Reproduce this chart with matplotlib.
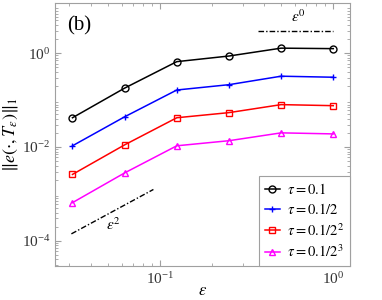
import numpy as np
import matplotlib
matplotlib.use("Agg")
import matplotlib.pyplot as plt

plt.rcParams['font.family'] = ['Liberation Serif', 'DejaVu Serif']
plt.rcParams['mathtext.fontset'] = 'stix'

# grid sizes eps = 1/32 ... 1
eps = [1/32, 1/16, 1/8, 1/4, 1/2, 1.0]

# L1 errors for each time step
err_tau1 = [0.042, 0.18, 0.66, 0.87, 1.28, 1.25]
err_tau2 = [0.0106, 0.044, 0.164, 0.213, 0.323, 0.307]
err_tau3 = [0.0026, 0.0111, 0.042, 0.054, 0.080, 0.076]
err_tau4 = [0.00065, 0.0028, 0.0106, 0.0136, 0.020, 0.019]

labels = [r'$\tau=0.1$', r'$\tau=0.1/2$', r'$\tau=0.1/2^2$', r'$\tau=0.1/2^3$']

# reference slopes
ref2_x = [0.0308, 0.0916]
ref2_c = 0.148
ref0_x = [0.37, 1.0]
ref0_y = 3.0

fig = plt.figure(figsize=(3.82, 3.00), dpi=100)
ax = fig.add_axes([0.144, 0.113, 0.772, 0.877])

series = [err_tau1, err_tau2, err_tau3, err_tau4]
colors = ['black', 'blue', 'red', 'magenta']
markers = ['o', '+', 's', '^']
for s, c, m, lab in zip(series, colors, markers, labels):
    ax.plot(eps, s, color=c, marker=m, markersize=5, mfc='none', mew=1.0,
            lw=1.1, label=lab)

# MATLAB-like dense dash-dot
dd = (0, (4, 1.5, 1, 1.5))
x2 = np.array(ref2_x)
ax.plot(x2, ref2_c * x2**2, color='black', ls=dd, lw=1.0)
ax.plot(ref0_x, [ref0_y, ref0_y], color='black', ls=dd, lw=1.0)

ax.text(0.0536, 2.25e-4, r'$\varepsilon^2$', fontsize=11, ha='center', va='center')
ax.text(0.627, 6.0, r'$\varepsilon^0$', fontsize=11, ha='center', va='center')
ax.text(0.0343, 3.8, '(b)', fontsize=15, ha='center', va='center')

ax.set_xscale('log')
ax.set_yscale('log')
ax.set_xlim(10**-1.606, 10**0.096)
ax.set_ylim(10**-4.54, 10**1.07)
ax.set_xticks([0.1, 1.0])
ax.set_yticks([1e-4, 1e-2, 1e0])

for sp in ax.spines.values():
    sp.set_color('#a0a0a0')
    sp.set_linewidth(0.8)
ax.tick_params(which='both', direction='in', top=True, right=True,
               color='#a0a0a0', labelcolor='#333333', labelsize=11)
ax.tick_params(which='major', length=4)
ax.tick_params(which='minor', length=2)

ax.set_xlabel(r'$\varepsilon$', fontsize=12, labelpad=-3)
ax.set_ylabel(r'$\|e(\cdot,T_\varepsilon)\|_1$', fontsize=13, labelpad=1)

leg = ax.legend(loc='lower right', fontsize=10.5, fancybox=False,
                handlelength=1.0, handletextpad=0.5, borderaxespad=0,
                framealpha=1, labelspacing=0.35)
leg.get_frame().set_edgecolor('#a0a0a0')
leg.get_frame().set_linewidth(0.8)

fig.savefig('out.png', dpi=100)
